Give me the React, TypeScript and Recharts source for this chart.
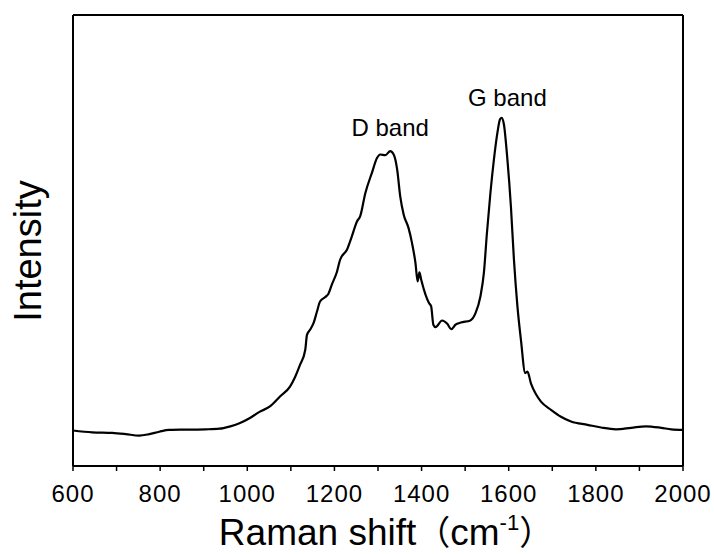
import { LineChart, Line, XAxis, YAxis, ReferenceDot } from 'recharts';

// Raman spectrum
const ramanShift = [
  600, 644, 690, 721, 752, 775, 798, 821, 859, 905, 936, 959, 982, 1005, 1028, 1052,
  1075, 1098, 1110, 1121, 1133, 1137, 1144, 1152, 1160, 1167, 1179, 1186, 1194, 1206,
  1213, 1229, 1240, 1252, 1259, 1271, 1286, 1298, 1305, 1317, 1328, 1336, 1344, 1351,
  1359, 1370, 1378, 1386, 1391, 1395, 1399, 1409, 1417, 1422, 1427, 1432, 1447, 1459,
  1468, 1478, 1490, 1512, 1524, 1535, 1543, 1550, 1558, 1566, 1574, 1580, 1584, 1589,
  1597, 1605, 1612, 1620, 1628, 1638, 1643, 1651, 1662, 1674, 1697, 1720, 1743, 1781,
  1812, 1846, 1881, 1915, 1950, 1973, 2000,
];
const intensity = [
  1.18, 1.12, 1.1, 1.06, 1.01, 1.06, 1.14, 1.2, 1.21, 1.22, 1.24, 1.31, 1.42, 1.59, 1.8, 1.98,
  2.31, 2.64, 2.97, 3.36, 3.86, 4.36, 4.53, 4.75, 5.14, 5.47, 5.62, 5.72, 6.03, 6.47,
  6.86, 7.2, 7.64, 8.14, 8.3, 9.08, 9.75, 10.25, 10.36, 10.34, 10.47, 10.36, 9.86, 8.97,
  8.36, 7.92, 7.42, 6.75, 6.14, 6.44, 6.2, 5.7, 5.42, 5.31, 4.7, 4.62, 4.84, 4.73,
  4.55, 4.7, 4.77, 4.84, 5.09, 5.64, 6.42, 7.75, 9.08, 10.19, 11.08, 11.53, 11.58, 11.36,
  10.19, 8.64, 6.86, 5.31, 4.2, 3.09, 3.14, 2.75, 2.4, 2.14, 1.87, 1.64, 1.48, 1.37,
  1.28, 1.22, 1.27, 1.32, 1.27, 1.22, 1.2,
];

const xTicks = [600, 700, 800, 900, 1000, 1100, 1200, 1300, 1400, 1500, 1600, 1700, 1800, 1900, 2000];
const xLabelled = [600, 800, 1000, 1200, 1400, 1600, 1800, 2000];
const yTicks = [0, 1, 2, 3, 4, 5, 6, 7, 8, 9, 10, 11, 12, 13, 14, 15];

// band annotations (text, and the spot in data units its baseline sits on)
const bandNames = ['D band', 'G band'];
const bandShift = [1328, 1597];
const bandIntensity = [10.97, 11.97];

const data = ramanShift.map((x, i) => ({ x, y: intensity[i] }));

const FONT = '"Liberation Sans", Arial, sans-serif';
const CJK = '"Noto Sans CJK SC", sans-serif';
const axisStroke = { stroke: '#000', strokeWidth: 2 };
const tickStroke = { stroke: '#000', strokeWidth: 1.5 };

const XTick = (props: any) => {
  const { x, y, payload } = props;
  if (!xLabelled.includes(payload.value)) return <g />;
  return (
    <text x={x} y={y} dy="0.71em" textAnchor="middle" fontSize={24} fontFamily={FONT} fill="#000" letterSpacing={1}>
      {payload.value}
    </text>
  );
};

export default function App() {
  return (
    <div style={{ position: 'absolute', left: 0, top: 0, width: 714, height: 554, background: '#fff' }}>
      <LineChart width={714} height={554} data={data} margin={{ top: 15, right: 31, bottom: 0, left: 73 }}>
        <XAxis
          xAxisId="b"
          dataKey="x"
          type="number"
          domain={[600, 2000]}
          ticks={xTicks}
          interval={0}
          tick={<XTick />}
          tickSize={5}
          tickMargin={14}
          tickLine={tickStroke}
          axisLine={axisStroke}
          height={88}
          label={{
            content: (props: any) => {
              const vb = props.viewBox || { x: 74, width: 608 };
              return (
                <text x={vb.x + vb.width / 2 + 8} y={545} textAnchor="middle" fontSize={37} fontFamily={FONT} fill="#000">
                  Raman shift
                  <tspan fontFamily={CJK} fontSize={34}>（</tspan>
                  cm
                  <tspan dy={-15} fontSize={22}>-1</tspan>
                  <tspan dy={15} fontFamily={CJK} fontSize={34}>）</tspan>
                </text>
              );
            },
          }}
        />
        <XAxis
          xAxisId="t"
          orientation="top"
          dataKey="x"
          type="number"
          domain={[600, 2000]}
          ticks={xTicks}
          interval={0}
          tick={false}
          mirror
          tickSize={3}
          tickLine={tickStroke}
          axisLine={axisStroke}
          height={1}
        />
        <YAxis
          yAxisId="l"
          type="number"
          domain={[0, 15]}
          ticks={yTicks}
          interval={0}
          tick={false}
          mirror
          tickSize={3}
          tickLine={tickStroke}
          axisLine={axisStroke}
          width={1}
          label={{
            content: () => (
              <text
                x={28}
                y={251}
                transform="rotate(-90 28 251)"
                textAnchor="middle"
                dominantBaseline="central"
                fontSize={38}
                fontFamily={FONT}
                fill="#000"
              >
                Intensity
              </text>
            ),
          }}
        />
        <YAxis
          yAxisId="r"
          orientation="right"
          type="number"
          domain={[0, 15]}
          ticks={yTicks}
          interval={0}
          tick={false}
          mirror
          tickSize={3}
          tickLine={tickStroke}
          axisLine={axisStroke}
          width={1}
        />
        <Line
          xAxisId="b"
          yAxisId="l"
          dataKey="y"
          type="monotone"
          stroke="#000"
          strokeWidth={2.2}
          dot={false}
          activeDot={false}
          isAnimationActive={false}
        />
        {bandNames.map((name, i) => (
          <ReferenceDot
            key={name}
            xAxisId="b"
            yAxisId="l"
            x={bandShift[i]}
            y={bandIntensity[i]}
            r={0}
            stroke="none"
            label={{
              content: (props: any) => {
                const vb = props.viewBox || { x: 0, y: 0 };
                return (
                  <text x={vb.x} y={vb.y} textAnchor="middle" fontSize={24} fontFamily={FONT} fill="#000">
                    {name}
                  </text>
                );
              },
            }}
          />
        ))}
      </LineChart>
    </div>
  );
}
